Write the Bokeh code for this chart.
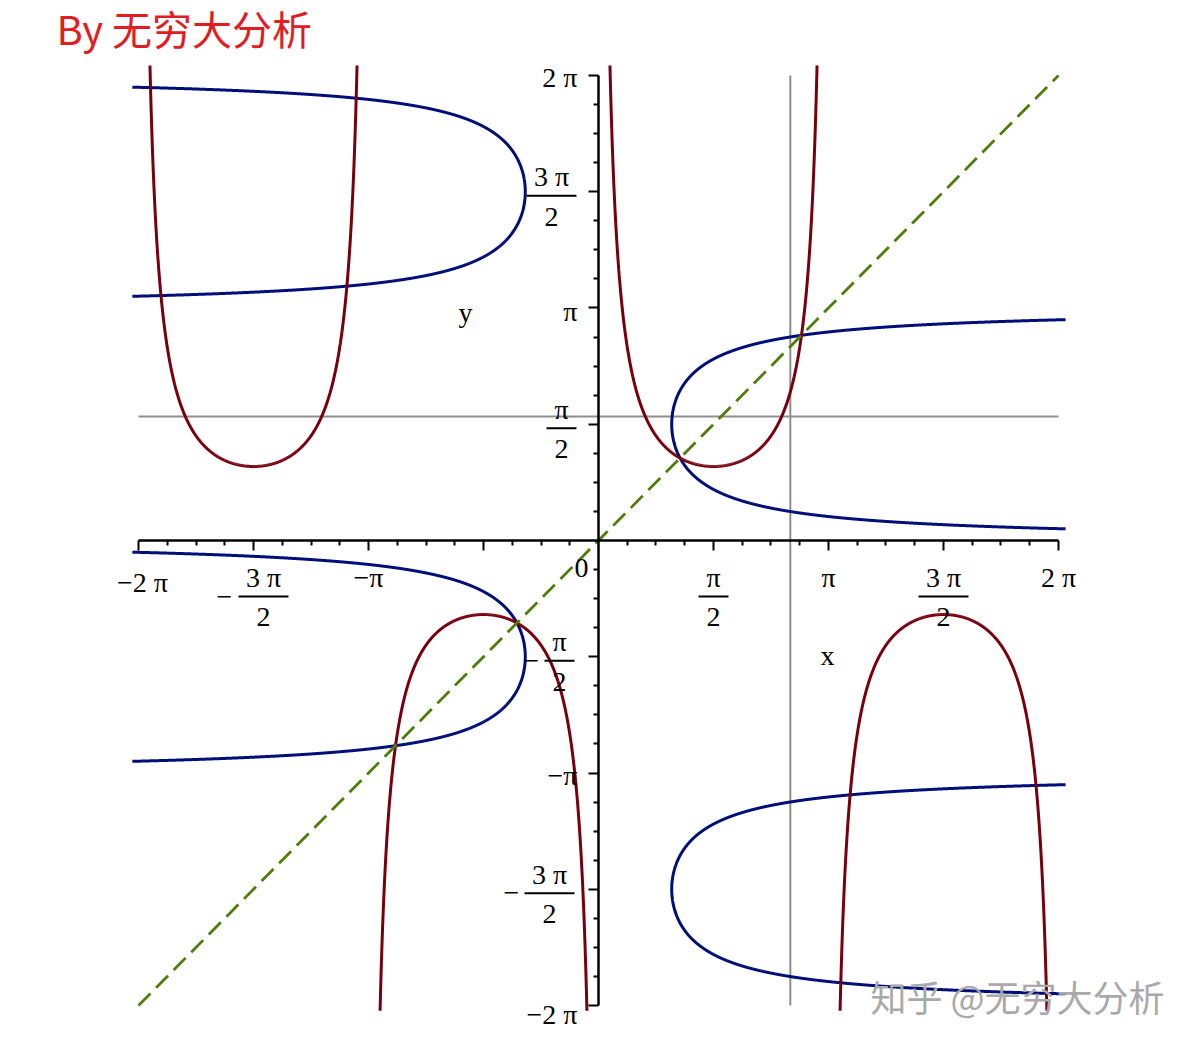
import numpy as np
from bokeh.plotting import figure
from bokeh.models import FixedTicker, Range1d, CustomJSTickFormatter
from bokeh.embed import file_html
from bokeh.resources import INLINE
from bokeh.core.properties import value

PI = np.pi

# ---------------- data ----------------
red_x_domain = [-2 * PI, 2 * PI]      # red curve: y = csc(x)
blue_y_domain = [-2 * PI, 2 * PI]     # blue curve: x = csc(y)
red_y_view = [-6.36, 6.42]            # visible extent of red curve
blue_x_view = [-6.37, 6.39]           # visible extent of blue curve
diag_x = [-2 * PI, 2 * PI]            # green dashed line y = x
diag_y = [-2 * PI, 2 * PI]
vline_x = 2.62                        # gray vertical line
hline_y = 1.675                       # gray horizontal line
axis_bounds = (-2 * PI, 2 * PI)
major_ticks = [k * PI / 2 for k in range(-4, 5) if k != 0]
minor_ticks = [k * PI / 8 for k in range(-16, 17) if k % 4 != 0]

x_label_vals = [-2 * PI, -1.5 * PI, -PI, 0.5 * PI, PI, 1.5 * PI, 2 * PI]
x_label_sign = ["−", "−", "−", "", "", "", ""]
x_label_num = ["2 π", "3 π", "π", "π", "π", "3 π", "2 π"]
x_label_den = ["", "2", "", "2", "", "2", ""]

y_label_vals = [2 * PI, 1.5 * PI, PI, 0.5 * PI, -0.5 * PI, -PI, -1.5 * PI, -2 * PI]
y_label_sign = ["", "", "", "", "−", "−", "−", "−"]
y_label_num = ["2 π", "3 π", "π", "π", "π", "π", "3 π", "2 π"]
y_label_den = ["", "2", "", "2", "2", "", "2", ""]

title_text = "By 无穷大分析"
watermark_text = "知乎 @无穷大分析"

# ---------------- layout ----------------
W, H = 1190, 1040
SX, SY = 73.21, 74.01           # px per unit
OX, OY = 598, 540               # origin inside figure
X0, X1 = -OX / SX, (W - OX) / SX
Y1, Y0 = OY / SY, -(H - OY) / SY


def PX(px):
    return (px - OX) / SX


def PY(py):
    return (OY - py) / SY


RED = "#78000e"
BLUE = "#000e78"
GREEN = "#4f7d0a"
GRAY = "#8e8e8e"
SERIF = value("Liberation Serif")
CJK = value("Noto Sans CJK SC")
FS = "28px"

p = figure(width=W, height=H, x_range=Range1d(X0, X1), y_range=Range1d(Y0, Y1),
           toolbar_location=None, output_backend="svg", min_border=0,
           outline_line_color=None, background_fill_color="white",
           border_fill_color="white")
p.xgrid.visible = False
p.ygrid.visible = False

blank = CustomJSTickFormatter(code="return ''")
for ax in (p.xaxis, p.yaxis):
    ax.fixed_location = 0
    ax.bounds = axis_bounds
    ax.ticker = FixedTicker(ticks=major_ticks, minor_ticks=minor_ticks)
    ax.formatter = blank
    ax.axis_line_width = 2.5
    ax.axis_line_color = "black"
    ax.major_tick_line_width = 2
    ax.minor_tick_line_width = 2
    ax.major_tick_in = 0
    ax.major_tick_out = 10
    ax.minor_tick_in = 0
    ax.minor_tick_out = 5
    ax.major_label_text_font_size = "0px"

# curves
with np.errstate(divide="ignore"):
    xr = np.linspace(red_x_domain[0], red_x_domain[1], 40001)
    yr = 1.0 / np.sin(xr)
    yr[(yr < red_y_view[0]) | (yr > red_y_view[1])] = np.nan
    yb = np.linspace(blue_y_domain[0], blue_y_domain[1], 40001)
    xb = 1.0 / np.sin(yb)
    xb[(xb < blue_x_view[0]) | (xb > blue_x_view[1])] = np.nan

p.line([vline_x, vline_x], list(axis_bounds), line_color=GRAY, line_width=2)
p.line(list(axis_bounds), [hline_y, hline_y], line_color=GRAY, line_width=2)
p.line(xb, yb, line_color=BLUE, line_width=3)
p.line(xr, yr, line_color=RED, line_width=3)
p.line(diag_x, diag_y, line_color=GREEN, line_width=2.8, line_dash="17 8")

# ---------------- tick labels ----------------
txt = dict(x=[], y=[], text=[], xo=[], yo=[], align=[])
bars = dict(x=[], y=[], w=[])


def add(x, y, t, xo, yo, align="center"):
    txt["x"].append(x); txt["y"].append(y); txt["text"].append(t)
    txt["xo"].append(xo); txt["yo"].append(yo); txt["align"].append(align)


# x axis
XBAR = 56
for v, s, n, d in zip(x_label_vals, x_label_sign, x_label_num, x_label_den):
    if d == "":
        first = abs(v + 2 * PI) < 1e-9
        add(v, 0, s + n, 4 if first else 0, 42 if first else 37)
    else:
        w = 50 if len(n) > 1 else 30
        cx = 10 if s else 0
        bars["x"].append(v + cx / SX); bars["y"].append(-XBAR / SY); bars["w"].append(w)
        add(v, 0, n, cx, XBAR - 19)
        add(v, 0, d, cx, XBAR + 20)
        if s:
            add(v, 0, s, cx - w / 2 - 14, XBAR)
add(0, 0, "0", -17, 27)

# y axis
y_simple_center = {2 * PI: 2, PI: 4, -PI: 2, -2 * PI: 9}
for v, s, n, d in zip(y_label_vals, y_label_sign, y_label_num, y_label_den):
    if d == "":
        add(0, v, s + n, -21, y_simple_center.get(v, 3), "right")
    else:
        w = 50 if len(n) > 1 else 30
        right = -22 if not s else -24
        cx = right - w / 2
        ybar = 4
        bars["x"].append(cx / SX); bars["y"].append(v - ybar / SY); bars["w"].append(w)
        add(0, v, n, cx, ybar - 19)
        add(0, v, d, cx, ybar + 21)
        if s:
            add(0, v, s, cx - w / 2 - 13, ybar)

p.text(x="x", y="y", text="text", x_offset="xo", y_offset="yo", text_align="align",
       source=txt, text_font=SERIF, text_font_size=FS, text_baseline="middle",
       text_color="black")
p.scatter(x=bars["x"], y=bars["y"], size=bars["w"], marker="dash",
          line_color="black", line_width=2)

# axis names placed as in the original
p.text(x=[PX(465), PX(827)], y=[PY(312), PY(655)], text=["y", "x"],
       text_font=SERIF, text_font_size=FS, text_align="center",
       text_baseline="middle", text_color="black")

# title and watermark
p.text(x=[PX(56)], y=[PY(27)], text=[title_text], text_font=CJK,
       text_font_size="40px", text_align="left", text_baseline="middle",
       text_color="#e31b23")
p.text(x=[PX(870)], y=[PY(995)], text=[watermark_text], text_font=CJK,
       text_font_size="36px", text_align="left", text_baseline="middle",
       text_color="#a9a9a9")

open("out.html", "w").write(file_html(p, INLINE))
